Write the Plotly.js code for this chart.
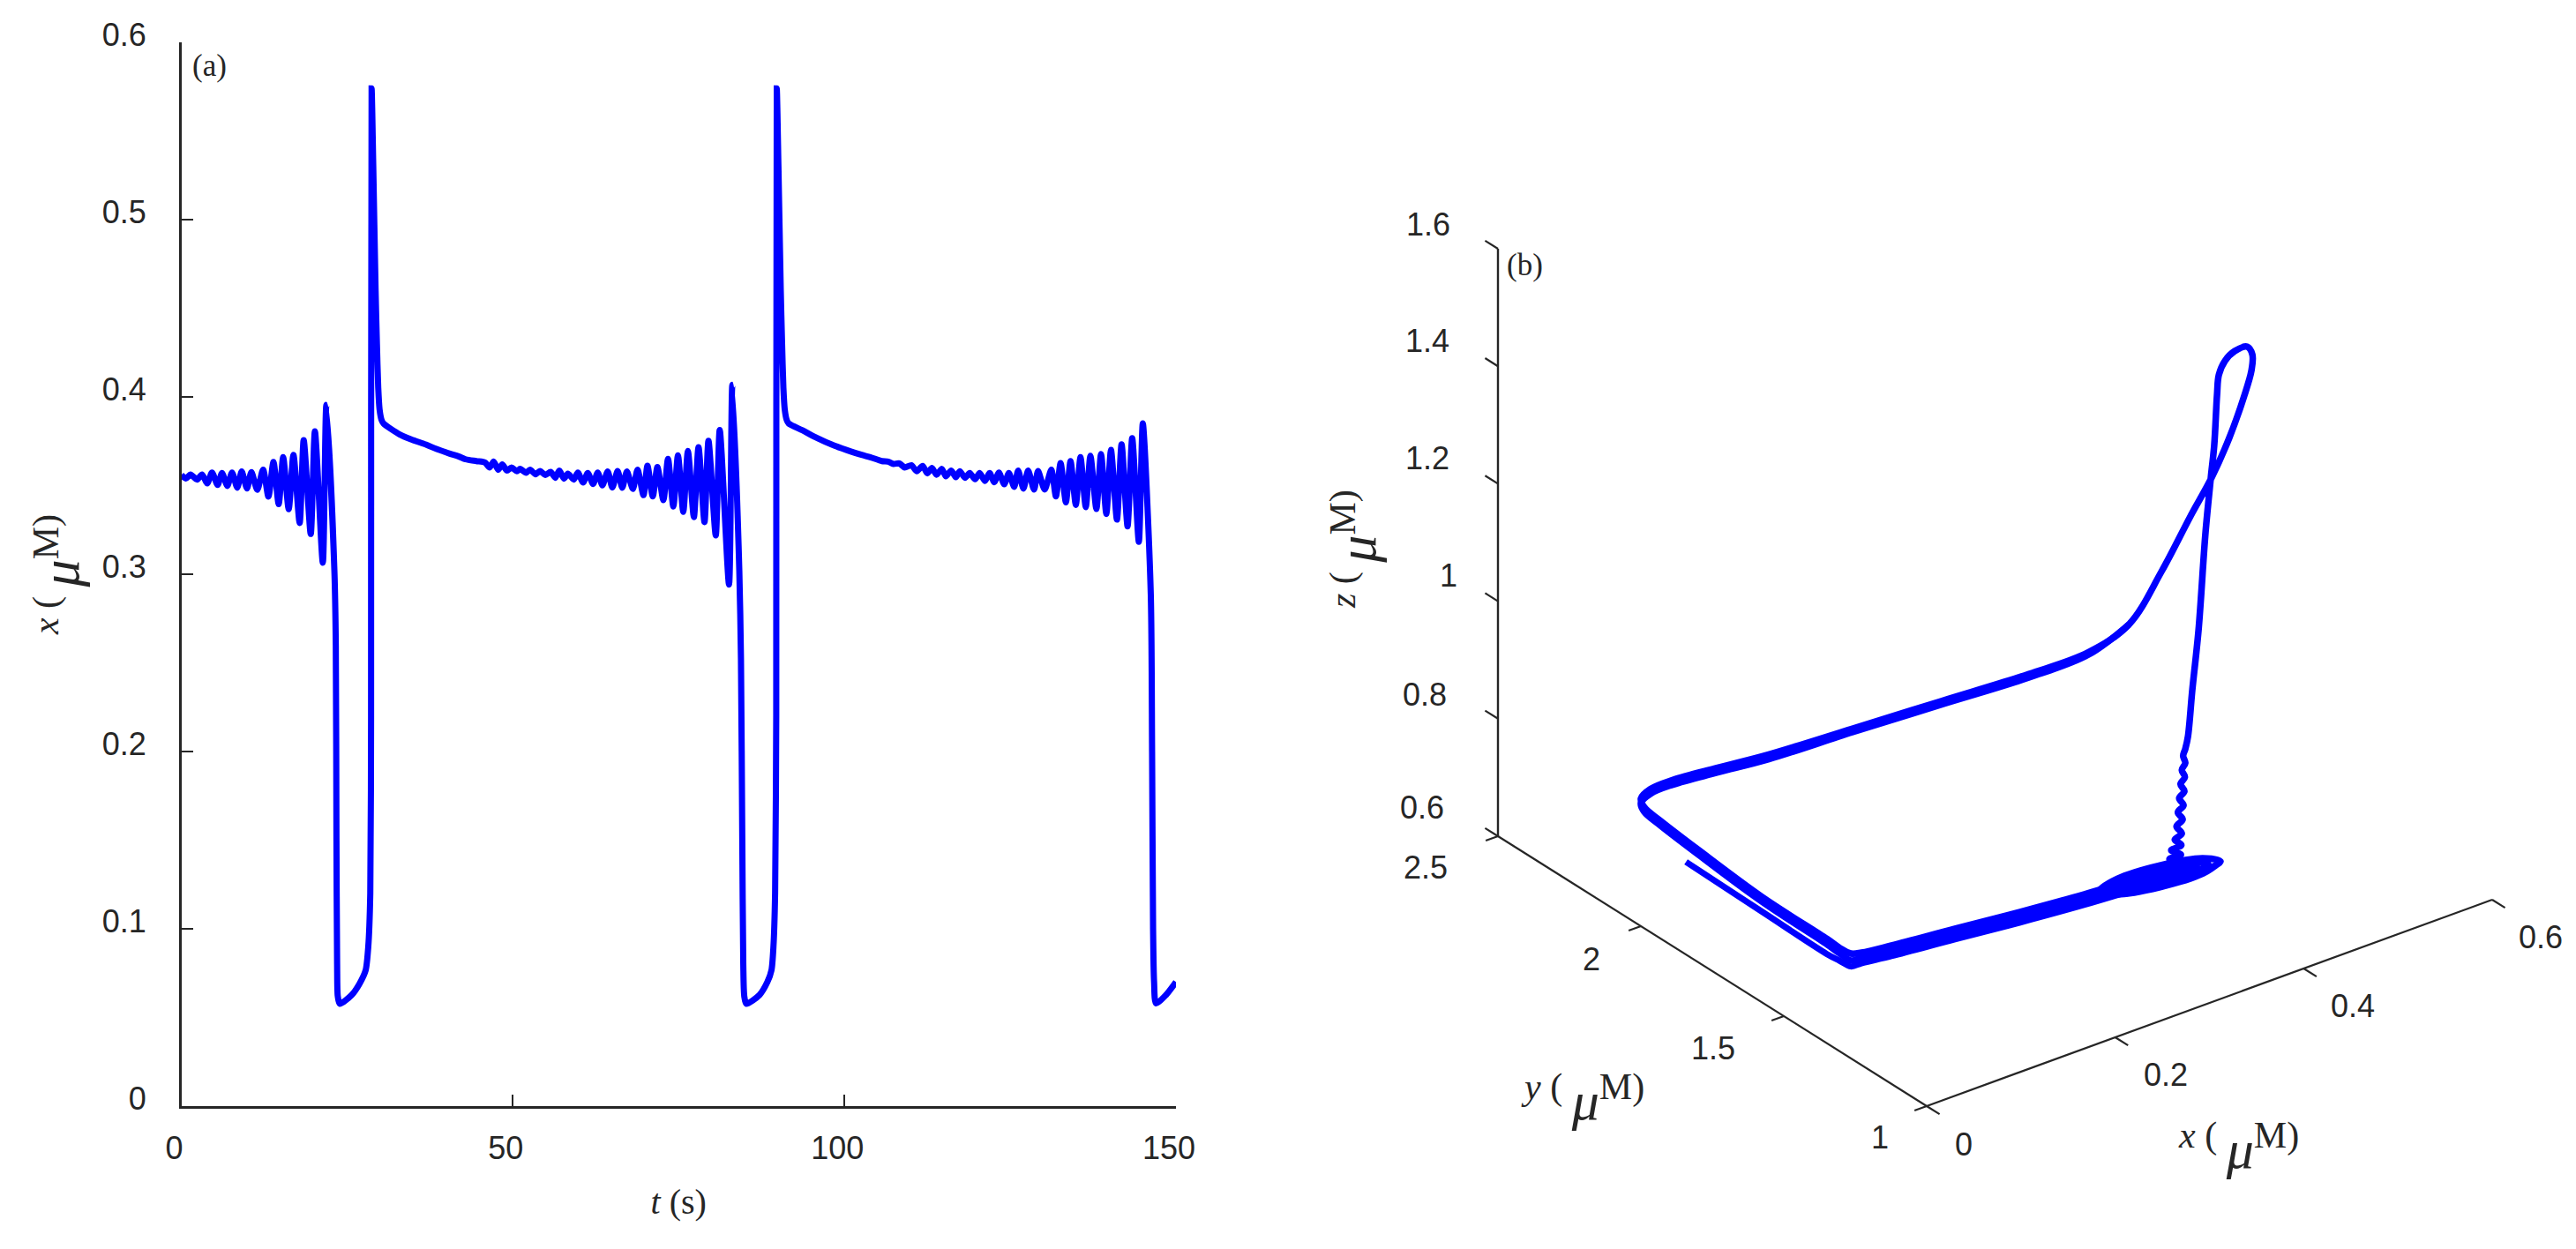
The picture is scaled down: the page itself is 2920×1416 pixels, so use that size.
<!DOCTYPE html>
<html>
<head>
<meta charset="utf-8">
<script src="https://cdn.plot.ly/plotly-3.0.1.min.js"></script>
<style>html,body{margin:0;padding:0;background:#fff}#g{width:2920px;height:1416px}</style>
</head>
<body>
<div id="g"></div>
<script>
// ---------- panel (a): time series ----------
const timeS = [0,.69,1.4,2.37,3.13,3.92,4.63,5.48,6.14,6.94,7.65,8.44,9.11,9.91,10.57,11.46,12.34,13.14,13.9,14.69,15.36,16.2,16.91,17.85,18.46,19.52,20.15,21.34,21.88,23.1,23.3,23.4,23.5,23.6,23.9,25.7,26.9,27.8,28.2,28.5,28.62,28.7,28.95,29.3,29.5,29.7,29.9,30.2,30.5,32.95,34.7,36.9,38.5,40.5,41.8,42.9,44.5,45.8,46.5,47.1,47.8,48.4,49.1,49.8,50.6,51.1,52,52.6,53.4,54.1,54.9,55.7,56.4,57,57.7,58.3,59.2,59.8,60.6,61.3,62.1,62.8,63.5,64.3,65,65.8,66.5,67.2,68.1,68.8,69.7,70.3,71.1,71.8,72.7,73.4,74.2,74.9,75.7,76.4,77.3,78,78.9,79.5,80.6,81.2,82.6,83.1,84.15,84.4,84.6,84.75,84.9,85.2,87.2,88.4,89,89.3,89.55,89.72,89.8,90.05,90.4,90.6,90.8,91,91.3,91.6,93.7,95.9,98.1,100.3,102.6,103.9,105.65,106.6,107.4,108.3,109.1,110.1,110.9,111.8,112.5,113.2,113.9,114.7,115.3,116.1,116.8,117.4,118.2,118.9,119.7,120.4,121.2,121.9,122.6,123.3,124.1,124.8,125.6,126.2,127,127.7,128.6,129.2,130.2,131.2,131.9,132.6,133.4,134.1,134.9,135.6,136.4,137.1,138,138.7,139.5,140.2,141.1,141.8,142.7,143.4,144.4,145,146.2,146.4,146.55,146.7,147,148.5,150];
const xConc = [.356,.354,.3562,.3534,.3562,.3512,.3574,.3504,.3571,.3498,.3574,.3488,.3579,.3484,.3576,.3476,.359,.3438,.3633,.3395,.366,.3367,.3673,.3289,.3756,.3227,.3806,.3065,.3955,.3005,.26,.15,.08,.062,.0577,.0627,.0692,.0766,.09,.12,.22,.574,.53,.46,.43,.405,.393,.387,.385,.3788,.376,.3731,.3706,.368,.3665,.3648,.3638,.363,.3602,.3635,.3589,.3619,.3585,.3602,.3581,.3594,.3572,.359,.3564,.3582,.356,.3577,.3544,.3585,.3539,.3567,.3534,.3574,.3517,.3571,.3509,.3574,.3501,.3579,.3489,.3582,.3488,.3579,.3481,.359,.3446,.3612,.3439,.3604,.3418,.3651,.3382,.367,.3352,.3695,.3322,.3716,.3294,.3753,.3219,.3814,.2942,.4068,.3022,.2524,.15,.08,.062,.0577,.0627,.0701,.0766,.09,.12,.22,.574,.53,.46,.43,.405,.393,.387,.385,.3811,.3768,.3731,.3701,.3673,.366,.3638,.3635,.3622,.3625,.3602,.3615,.3581,.3611,.3569,.3599,.3561,.3594,.3552,.3585,.3547,.3581,.3544,.3571,.3536,.3571,.3526,.3571,.3519,.3574,.3507,.3571,.3493,.3585,.3483,.3585,.3478,.3582,.3478,.3589,.3439,.3627,.3406,.3638,.3391,.366,.3378,.3668,.3368,.3678,.334,.3701,.3308,.3733,.327,.3768,.3183,.3851,.289,.2,.1,.07,.058,.0627,.07];
const tTicks = [0,50,100,150];
const xTicksA = [0,.1,.2,.3,.4,.5,.6];
const xTickTextA = ['0','0.1','0.2','0.3','0.4','0.5','0.6'];

// ---------- panel (b): phase portrait, [x, y, z] along the orbit ----------
const spiralX = [.3582,.3535,.3488,.3535,.359,.3515,.3439,.3545,.3651,.3535,.3418,.3557,.3695,.3524,.3352,.3553,.3753,.3524,.3294,.3554,.3814,.3517,.3219,.3535,.385,.3752,.3517,.3281,.3183,.3281,.3517,.3752,.3955,.3825,.351,.3195,.3065,.3195,.351,.3825,.4068,.3903,.3505,.3107,.2942,.3107,.3505,.3903,.4068];
const spiralY = [1.336,1.3382,1.3404,1.3377,1.3356,1.3391,1.3427,1.3377,1.3328,1.3382,1.3437,1.3372,1.3307,1.3387,1.3468,1.3374,1.328,1.3387,1.3495,1.3373,1.3251,1.339,1.353,1.3382,1.3234,1.328,1.339,1.3501,1.3547,1.3501,1.339,1.328,1.3185,1.3246,1.3394,1.3542,1.3603,1.3542,1.3394,1.3246,1.3132,1.321,1.3396,1.3583,1.366,1.3583,1.3396,1.321,1.3132];
const spiralZ = [.682,.6836,.682,.6804,.682,.6845,.682,.6795,.682,.6859,.682,.6761,.682,.6877,.682,.6743,.682,.6896,.682,.6722,.682,.6918,.682,.6702,.682,.6898,.693,.6898,.682,.6742,.671,.6742,.682,.6924,.6967,.6924,.682,.6716,.6673,.6716,.682,.6952,.7006,.6952,.682,.6688,.6634,.6688,.682];

const orbit1X = [.34,.2798,.2199,.1601,.1011,.0735,.058,.059,.06,.063,.067,.072,.076,.078,.084,.09,.1,.12,.16,.2,.25,.3,.35,.4,.44,.48,.51,.54,.56,.57,.574,.55,.52,.48,.44,.41,.39,.385,.376,.37,.365,.361,.358,.361,.358,.361,.358,.361,.358,.361,.358,.361,.358,.361,.358,.361,.358,.361,.358,.361];
const orbit1Y = [1.3445,1.3729,1.4009,1.429,1.4568,1.4707,1.4565,1.5,1.5466,1.7818,2.0204,2.1694,2.2383,2.2571,2.2429,2.1855,2.0611,1.9481,1.7867,1.6099,1.466,1.4241,1.4469,1.4975,1.5275,1.5852,1.6225,1.6719,1.7102,1.7401,1.7716,1.7358,1.671,1.5605,1.4349,1.346,1.2917,1.2938,1.2889,1.2907,1.2895,1.2855,1.2833,1.2855,1.288,1.287,1.2926,1.2886,1.2972,1.2917,1.3019,1.2948,1.3065,1.2978,1.3127,1.2994,1.325,1.3009,1.3312,1.3009];
const orbit1Z = [.689,.6823,.6787,.6767,.6742,.674,.686,.682,.682,.679,.6846,.6855,.6848,.6929,.71,.7393,.7924,.8379,.908,.9853,1.0465,1.0667,1.0779,1.1233,1.1853,1.2102,1.2488,1.2836,1.3068,1.3188,1.3203,1.3378,1.3587,1.3921,1.4209,1.3785,1.3529,1.262,1.1008,1.003,.9266,.9093,.8997,.8853,.8742,.8607,.8488,.8362,.8234,.8113,.7979,.7863,.7725,.7613,.748,.7413,.7263,.7243,.7093,.7108];

const orbit2X = [.34,.2798,.2199,.1601,.1011,.0735,.058,.059,.06,.063,.067,.072,.076,.078,.084,.09,.1,.12,.16,.2,.25,.3,.35];
const orbit2Y = [1.3445,1.3729,1.4009,1.429,1.4568,1.4707,1.4565,1.5,1.5466,1.7818,2.0204,2.1694,2.2383,2.2571,2.2429,2.1855,2.0611,1.9481,1.7867,1.6099,1.466,1.4241,1.4469];
const orbit2Z = [.68,.6733,.6697,.6677,.6652,.665,.674,.6726,.6727,.6709,.6766,.6775,.6768,.6849,.702,.7313,.7844,.8299,.902,.9793,1.0405,1.0627,1.0779];

const orbit3X = [.34,.2798,.2199,.1601,.1011,.0735,.058,.059,.06,.063,.07];
const orbit3Y = [1.3445,1.3729,1.4009,1.429,1.4568,1.4707,1.4565,1.5,1.5466,1.7818,2.073];
const orbit3Z = [.671,.6643,.6607,.6587,.6562,.656,.664,.66,.6562,.6539,.646];

const xTicks3d = [0,.2,.4,.6], xTickText3d = ['0','0.2','0.4','0.6'];
const yTicks3d = [1,1.5,2,2.5], yTickText3d = ['1','1.5','2','2.5'];
const zTicks3d = [.6,.8,1,1.2,1.4,1.6], zTickText3d = ['0.6','0.8','1','1.2','1.4','1.6'];

const INK = '#262626', BLUE = '#0000ff';
const serif = 'Liberation Serif, Times New Roman, serif';
const sans = 'Liberation Sans, Arial, sans-serif';
const W = 2920, H = 1416;
const micro = '\u00a0<span style="font-size:62px;baseline-shift:-23px;font-style:italic">\u03bc</span>M)';

// Oblique view of the 3-D box onto the plane of the second axes pair (az about 37 deg, el about 29 deg)
const view = {hx:1068.3, hy:-324, vx:390, vy:204, vz:666};
function projH(x,y){ return view.hx*x + view.hy*(y-1); }
function projV(x,y,z){ return view.vx*x + view.vy*(y-1) + view.vz*(z-.6); }

const traces = [{
  type:'scatter', mode:'lines', x:timeS, y:xConc, xaxis:'x', yaxis:'y',
  line:{color:BLUE, width:7, shape:'spline', smoothing:.7}, hoverinfo:'skip', showlegend:false
}];
function line3d(x,y,z,w,c,smooth){
  const line = smooth ? {color:c,width:w,shape:'spline',smoothing:1} : {color:c,width:w};
  return {type:'scatter',mode:'lines',xaxis:'x2',yaxis:'y2',
    x:x.map((v,i)=>projH(v,y[i])), y:x.map((v,i)=>projV(v,y[i],z[i])),
    line,hoverinfo:'skip',showlegend:false,cliponaxis:false};
}
// box axes
traces.push(line3d([0,.6],[1,1],[.6,.6],2.2,INK));
traces.push(line3d([0,0],[1,2.5],[.6,.6],2.2,INK));
traces.push(line3d([0,0],[2.5,2.5],[.6,1.6],2.4,INK));
xTicks3d.forEach(v=>traces.push(line3d([v,v],[1,.955],[.6,.6],2.2,INK)));
yTicks3d.forEach(v=>traces.push(line3d([0,-.013],[v,v],[.6,.6],2.2,INK)));
zTicks3d.forEach(v=>traces.push(line3d([0,0],[2.5,2.545],[v,v],2.2,INK)));
// orbit
traces.push(line3d(spiralX,spiralY,spiralZ,7.5,BLUE,true));
traces.push(line3d(orbit1X,orbit1Y,orbit1Z,7.5,BLUE,true));
traces.push(line3d(orbit2X,orbit2Y,orbit2Z,7.5,BLUE,true));
traces.push(line3d(orbit3X,orbit3Y,orbit3Z,7,BLUE,true));

function tick3(x,y,z,text,xs,ys){
  return {xref:'x2',yref:'y2',x:projH(x,y),y:projV(x,y,z),text,showarrow:false,xanchor:'center',yanchor:'middle',
    xshift:xs,yshift:ys,font:{family:sans,size:36,color:INK}};
}
const xLabelShift = [[42,-43],[57,-42],[56,-42],[55,-42]];
const yLabelShift = [[-53,-35],[-80,-36],[-56,-37],[-82,-35]];
const zLabelShift = [[-86,33],[-83,27],[-56,29],[-80,29],[-80,29],[-79,28]];
const tickAnn = [
  ...xTicks3d.map((v,i)=>tick3(v,1,.6,xTickText3d[i],xLabelShift[i][0],xLabelShift[i][1])),
  ...yTicks3d.map((v,i)=>tick3(0,v,.6,yTickText3d[i],yLabelShift[i][0],yLabelShift[i][1])),
  ...zTicks3d.map((v,i)=>tick3(0,2.5,v,zTickText3d[i],zLabelShift[i][0],zLabelShift[i][1]))
];

function paperText(px,py,text,size,angle){
  return {xref:'paper',yref:'paper',x:px/W,y:1-py/H,text,showarrow:false,xanchor:'center',yanchor:'middle',
    textangle:angle||0,font:{family:serif,size,color:INK}};
}

const layout = {
  width:W, height:H, paper_bgcolor:'#fff', plot_bgcolor:'rgba(0,0,0,0)', showlegend:false, hovermode:false,
  margin:{l:0,r:0,t:0,b:0},
  xaxis:{domain:[205.5/W,1333/W],range:[0,150],tickvals:tTicks,ticktext:tTicks.map(String),showline:true,linecolor:INK,linewidth:2.5,
    ticks:'inside',ticklen:13,tickwidth:2,tickcolor:INK,showgrid:false,zeroline:false,ticklabelstandoff:14,ticklabelshift:-8,
    tickfont:{family:sans,size:36,color:INK},
    title:{text:'<i>t</i> (s)',standoff:28,font:{family:serif,size:40,color:INK}}},
  yaxis:{domain:[(H-1254)/H,(H-48)/H],range:[0,.6],tickvals:xTicksA,ticktext:xTickTextA,showline:true,linecolor:INK,linewidth:2.5,
    ticks:'inside',ticklen:13,tickwidth:2,tickcolor:INK,showgrid:false,zeroline:false,ticklabelstandoff:30,ticklabelshift:-9,
    tickfont:{family:sans,size:36,color:INK},
    title:{text:'<i>x</i> ('+micro,standoff:36,font:{family:serif,size:42,color:INK}}},
  xaxis2:{domain:[1550/W,1],range:[1550-2184,2920-2184],visible:false,fixedrange:true,anchor:'y2'},
  yaxis2:{domain:[0,1],range:[-162,1254],visible:false,fixedrange:true,anchor:'x2'},
  annotations:[
    ...tickAnn,
    paperText(237,75,'(a)',35),
    paperText(1728,300,'(b)',35),
    paperText(2537,1300,'<i>x</i> ('+micro,42),
    paperText(1794,1245,'<i>y</i> ('+micro,42),
    paperText(1535,623,'<i>z</i> ('+micro,42,-90)
  ]
};
Plotly.newPlot('g',traces,layout,{displayModeBar:false,staticPlot:true});
</script>
</body>
</html>
